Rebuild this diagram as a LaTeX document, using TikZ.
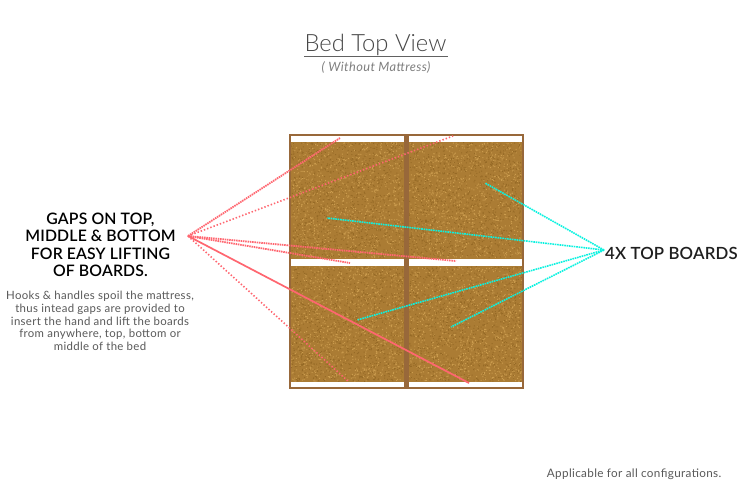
\documentclass[tikz,border=0pt]{standalone}
\usepackage{fontspec}
\setmainfont{Lato}
\newfontfamily\lightfont{Lato Light}
\newfontfamily\lightspaced[LetterSpace=3]{Lato}
\newfontfamily\semifont[LetterSpace=1]{Lato Semibold}
\definecolor{woodbase}{HTML}{AB7C34}
\definecolor{woodlight}{HTML}{CB9C4E}
\definecolor{wooddark}{HTML}{966A26}
\definecolor{framec}{HTML}{98683A}
\definecolor{pinkc}{HTML}{FF6670}
\definecolor{cyanc}{HTML}{0CF2E0}
\tikzset{
  framebox/.style={draw=framec,line width=2pt,fill=white,outer sep=0pt},
  boardbox/.style={fill=woodbase,draw=none},
  midbar/.style={fill=framec,draw=none},
  pinkdot/.style={draw=pinkc,line width=1.8pt,dash pattern=on 1.5pt off 0.8pt},
  pinkwide/.style={draw=pinkc,line width=1.6pt,dash pattern=on 1.4pt off 2pt},
  pinksolid/.style={draw=pinkc,line width=1.7pt},
  cyandot/.style={draw=cyanc,line width=1.6pt,dash pattern=on 1.6pt off 0.8pt},
  heading/.style={align=center,text=black,font=\fontsize{15.8}{17.6}\selectfont\semifont,inner sep=0pt},
  bodytext/.style={align=center,text=black!65,font=\fontsize{11.4}{12.6}\selectfont\lightspaced,inner sep=0pt},
  titletext/.style={text=black!72,font=\fontsize{23.8}{25}\selectfont\lightfont,inner sep=0pt},
  subtext/.style={text=black!50,font=\fontsize{12.8}{14}\selectfont\itshape\addfontfeatures{LetterSpace=3},inner sep=0pt},
}
\pgfmathsetseed{4242}
\newcommand{\speckle}[5]{% x y width height colour
  \fill[#5] foreach \i in {1,...,1100} {
    ({#1+rnd*(#3-1)},{#2+rnd*(#4-1)}) rectangle ++(1,1)
  };
}
\begin{document}
\begin{tikzpicture}[x=1pt,y=-1pt]
\useasboundingbox (0,0) rectangle (751,501);
\fill[white] (0,0) rectangle (751,501);
% frame
\node[framebox,minimum width=233pt,minimum height=253pt,anchor=north west,inner sep=0pt] (bed) at (290,135) {};
% boards
\node[boardbox,minimum width=113pt,minimum height=116.5pt,anchor=north west,inner sep=0pt] (b1) at (291,142) {};
\node[boardbox,minimum width=113.5pt,minimum height=116.5pt,anchor=north west,inner sep=0pt] (b2) at (408.7,142) {};
\node[boardbox,minimum width=113pt,minimum height=116pt,anchor=north west,inner sep=0pt] (b3) at (291,266) {};
\node[boardbox,minimum width=113.5pt,minimum height=116pt,anchor=north west,inner sep=0pt] (b4) at (408.7,266) {};
\speckle{291}{142}{113}{116}{woodlight}
\speckle{291}{142}{113}{116}{wooddark}
\speckle{408.7}{142}{113.3}{116}{woodlight}
\speckle{408.7}{142}{113.3}{116}{wooddark}
\speckle{291}{266}{113}{116}{woodlight}
\speckle{291}{266}{113}{116}{wooddark}
\speckle{408.7}{266}{113.3}{116}{woodlight}
\speckle{408.7}{266}{113.3}{116}{wooddark}
\node[midbar,minimum width=4.6pt,minimum height=253pt,anchor=north west,inner sep=0pt] (bar) at (404.1,135) {};
% hubs and ends
\coordinate (hubL) at (188,236);
\coordinate (hubR) at (604,250);
\coordinate (pa) at (340,138);
\coordinate (pb) at (453,136);
\coordinate (pc) at (350,263);
\coordinate (pd) at (456,261);
\coordinate (pe) at (469,383);
\coordinate (pf) at (349,382);
\coordinate (ca) at (485,183);
\coordinate (cb) at (327,218);
\coordinate (cc) at (357,320);
\coordinate (cd) at (451,327);
\draw[pinkdot] (hubL) -- (pa);
\draw[pinkwide] (hubL) -- (pb);
\draw[pinkdot] (hubL) -- (pc);
\draw[pinkdot] (hubL) -- (pd);
\draw[pinksolid] (hubL) -- (pe);
\draw[pinkwide] (hubL) -- (pf);
\draw[cyandot] (hubR) -- (ca);
\draw[cyandot] (hubR) -- (cb);
\draw[cyandot] (hubR) -- (cc);
\draw[cyandot] (hubR) -- (cd);
% texts
\node[titletext] (title) at (375.5,45) {Bed Top View};
\draw[draw=black!62,line width=1pt] (304,56.5) -- (447.5,56.5);
\node[subtext] (sub) at (376,67.5) {( Without Mattress)};
\node[heading] (gaps) at (100.5,244.8) {GAPS ON TOP,\\MIDDLE \& BOTTOM\\FOR EASY LIFTING\\OF BOARDS.};
\node[bodytext] (hooks) at (100,321) {Hooks \& handles spoil the mattress,\\thus intead gaps are provided to\\insert the hand and lift the boards\\from anywhere, top, bottom or\\middle of the bed};
\node[heading,font=\fontsize{16.8}{18}\selectfont\semifont,text=black!88,anchor=west] (four) at (605,253) {4X TOP BOARDS};
\node[bodytext,anchor=east,font=\fontsize{11.7}{13}\selectfont\lightspaced] (appl) at (721.5,474.5) {Applicable for all configurations.};
\end{tikzpicture}
\end{document}
